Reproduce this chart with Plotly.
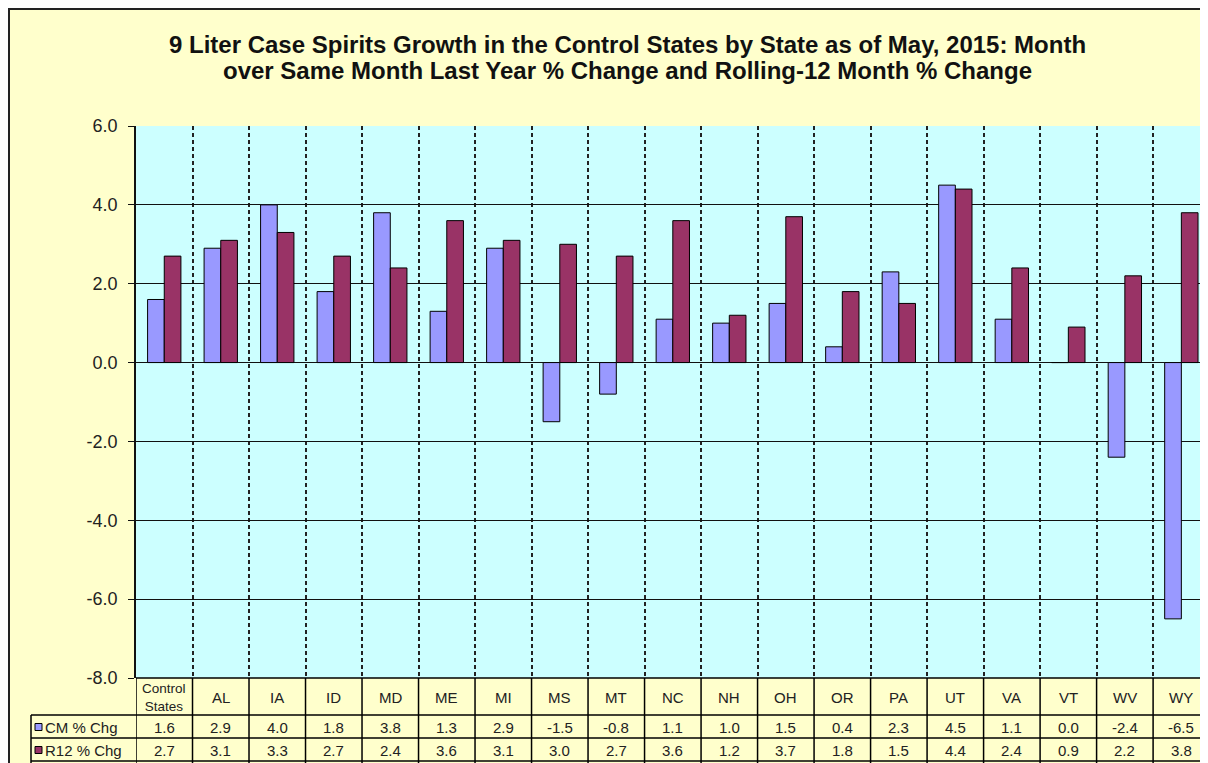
import plotly.graph_objects as go

states = ["Control States", "AL", "IA", "ID", "MD", "ME", "MI", "MS", "MT", "NC",
          "NH", "OH", "OR", "PA", "UT", "VA", "VT", "WV", "WY"]
cm_chg = [1.6, 2.9, 4.0, 1.8, 3.8, 1.3, 2.9, -1.5, -0.8, 1.1,
          1.0, 1.5, 0.4, 2.3, 4.5, 1.1, 0.0, -2.4, -6.5]
r12_chg = [2.7, 3.1, 3.3, 2.7, 2.4, 3.6, 3.1, 3.0, 2.7, 3.6,
           1.2, 3.7, 1.8, 1.5, 4.4, 2.4, 0.9, 2.2, 3.8]
series_names = ["CM % Chg", "R12 % Chg"]
series_colors = ["#9999FF", "#993366"]
y_ticks = [-8, -6, -4, -2, 0, 2, 4, 6]
title_lines = [
    "9 Liter Case Spirits Growth in the Control States by State as of May, 2015: Month",
    "over Same Month Last Year % Change and Rolling-12 Month % Change",
]

FONT = "Liberation Sans, Arial, sans-serif"
OFF = 8  # page body margin
W, H = 1200 - OFF, 763 - OFF
L, R, T, B = 136 - OFF, 0, 126 - OFF, 85
PH = H - T - B
PW = W - L - R


def py(p):
    # page pixel row -> paper y
    return (H - B - (p - OFF)) / PH


def px(p):
    # page pixel column -> paper x
    return (p - OFF - L) / PW


fig = go.Figure()
for name, vals, col in zip(series_names, [cm_chg, r12_chg], series_colors):
    fig.add_trace(go.Bar(
        x=states, y=vals, name=name,
        marker=dict(color=col, line=dict(color="#000000", width=1)),
    ))

shapes = []
annotations = []

# outer frame
shapes.append(dict(type="rect", xref="paper", yref="paper", x0=px(OFF + 1), x1=px(W + 40),
                   y0=py(H + 40), y1=py(OFF + 1), line=dict(color="#222222", width=2)))

# data table lines
row_lines = [678, 715, 738, 761]
for i, yy in enumerate(row_lines):
    x0 = px(136) if i == 0 else px(31)
    shapes.append(dict(type="line", xref="paper", yref="paper", x0=x0, x1=1.0,
                       y0=py(yy), y1=py(yy), line=dict(color="black", width=1.5)))
shapes.append(dict(type="line", xref="paper", yref="paper", x0=px(31), x1=px(31),
                   y0=py(715), y1=py(H + 20), line=dict(color="black", width=1.5)))
for i in range(len(states) + 1):
    shapes.append(dict(type="line", xref="x", yref="paper", x0=i - 0.5, x1=i - 0.5,
                       y0=py(678), y1=py(H + 20), line=dict(color="black", width=1.5)))

# category labels and values
cell_font = dict(size=15, color="#222222", family=FONT)
for s, a, b in zip(states, cm_chg, r12_chg):
    lab = s.replace(" ", "<br>")
    annotations.append(dict(xref="x", yref="paper", x=s, y=py(697), yanchor="middle",
                            xanchor="center", text=lab, showarrow=False,
                            font=dict(size=13.5 if " " in s else 15, color="#222222", family=FONT)))
    annotations.append(dict(xref="x", yref="paper", x=s, y=py(727), yanchor="middle",
                            xanchor="center", text=f"{a:.1f}", showarrow=False, font=cell_font))
    annotations.append(dict(xref="x", yref="paper", x=s, y=py(750), yanchor="middle",
                            xanchor="center", text=f"{b:.1f}", showarrow=False, font=cell_font))

# legend keys in table
for k, (name, col) in enumerate(zip(series_names, series_colors)):
    yc = 727 if k == 0 else 750
    shapes.append(dict(type="rect", xref="paper", yref="paper", x0=px(35), x1=px(42),
                       y0=py(yc + 3.5), y1=py(yc - 3.5), fillcolor=col,
                       line=dict(color="black", width=1)))
    annotations.append(dict(xref="paper", yref="paper", x=px(43), y=py(yc),
                            xanchor="left", yanchor="middle", text=name, showarrow=False,
                            font=cell_font))

# title lines
for line, yy in zip(title_lines, [45, 70]):
    annotations.append(dict(xref="paper", yref="paper", x=px(627), y=py(yy),
                            xanchor="center", yanchor="middle", showarrow=False,
                            text=f"<b>{line}</b>",
                            font=dict(size=24, family=FONT, color="#111111")))

fig.update_layout(
    width=W, height=H,
    margin=dict(l=L, r=R, t=T, b=B),
    paper_bgcolor="#FFFFCC",
    plot_bgcolor="#CCFFFF",
    showlegend=False,
    barmode="group",
    bargap=0.41,
    bargroupgap=0,
    font=dict(family=FONT, color="#222222"),
    shapes=shapes,
    annotations=annotations,
)
fig.update_xaxes(
    type="category", range=[-0.5, 18.33], showticklabels=False, ticks="",
    showgrid=True, tickson="boundaries", griddash="4px,3px",
    gridcolor="#222222", gridwidth=1.5, showline=False, zeroline=False,
)
fig.update_yaxes(
    range=[-8, 6], tickvals=y_ticks, ticktext=[f"{v:.1f}" for v in y_ticks],
    showgrid=True, gridcolor="#111111", gridwidth=1,
    zeroline=True, zerolinecolor="#111111", zerolinewidth=1,
    showline=True, linecolor="#111111", linewidth=1.5,
    ticks="outside", ticklen=6, tickcolor="#111111", ticklabelstandoff=7,
    tickfont=dict(size=18, family=FONT, color="#222222"),
)

fig.write_html("out.html")
